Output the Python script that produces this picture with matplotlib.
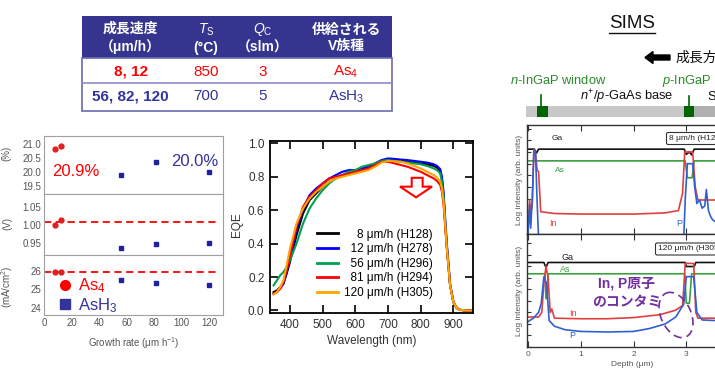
import matplotlib
matplotlib.use("Agg")
import matplotlib.pyplot as plt
from matplotlib.patches import Rectangle, Polygon, Ellipse
from matplotlib.lines import Line2D

plt.rcParams['font.family'] = ['Liberation Sans', 'Noto Sans CJK JP', 'DejaVu Sans']
plt.rcParams['mathtext.fontset'] = 'custom'
plt.rcParams['mathtext.rm'] = 'Liberation Sans'
plt.rcParams['mathtext.it'] = 'Liberation Sans:italic'
plt.rcParams['mathtext.bf'] = 'Liberation Sans:bold'

# ---------------- data ----------------
# table
table_header = ["成長速度\n（μm/h）", "$\\mathit{T}_\\mathrm{S}$\n(°C)", "$\\mathit{Q}_\\mathrm{C}$\n（slm）", "供給される\nV族種"]
table_row1 = ["8, 12", "850", "3", "As$_4$"]
table_row2 = ["56, 82, 120", "700", "5", "AsH$_3$"]

# growth-rate panels
rate_as4 = [8, 12]
eff_as4 = [20.82, 20.95]
voc_as4 = [1.001, 1.0145]
jsc_as4 = [25.9, 25.9]
rate_ash3 = [56, 81, 120]
eff_ash3 = [19.88, 20.36, 19.99]
voc_ash3 = [0.936, 0.947, 0.950]
jsc_ash3 = [25.5, 25.35, 25.24]
voc_ref = 1.009
jsc_ref = 25.92

# EQE
wl = [350, 360, 370, 380, 390, 400, 420, 440, 460, 480, 500, 520, 540, 560, 580, 600, 620, 640,
      660, 680, 700, 720, 740, 760, 780, 800, 820, 840, 850, 860, 865, 870, 875, 880, 890, 900,
      910, 920, 940, 955]
eqe_8 = [0.11, 0.12, 0.14, 0.16, 0.22, 0.29, 0.45, 0.58, 0.66, 0.70, 0.74, 0.77, 0.79, 0.81, 0.82,
         0.83, 0.84, 0.85, 0.87, 0.895, 0.90, 0.898, 0.895, 0.89, 0.885, 0.88, 0.875, 0.865, 0.855,
         0.83, 0.78, 0.68, 0.52, 0.38, 0.15, 0.05, 0.015, 0.004, 0.0, 0.0]
eqe_12 = [0.10, 0.11, 0.13, 0.16, 0.23, 0.31, 0.48, 0.61, 0.69, 0.73, 0.76, 0.79, 0.81, 0.83, 0.84,
          0.84, 0.85, 0.86, 0.88, 0.90, 0.91, 0.907, 0.903, 0.90, 0.895, 0.89, 0.885, 0.875, 0.865,
          0.845, 0.80, 0.71, 0.55, 0.40, 0.16, 0.05, 0.015, 0.004, 0.0, 0.0]
eqe_56 = [0.15, 0.18, 0.21, 0.23, 0.26, 0.30, 0.40, 0.52, 0.61, 0.67, 0.72, 0.76, 0.79, 0.81, 0.83,
          0.84, 0.86, 0.87, 0.88, 0.895, 0.90, 0.895, 0.89, 0.885, 0.88, 0.875, 0.865, 0.85, 0.84,
          0.82, 0.77, 0.68, 0.52, 0.38, 0.15, 0.05, 0.015, 0.004, 0.0, 0.0]
eqe_81 = [0.10, 0.11, 0.13, 0.17, 0.24, 0.33, 0.50, 0.62, 0.68, 0.72, 0.76, 0.79, 0.80, 0.81, 0.82,
          0.83, 0.84, 0.85, 0.87, 0.89, 0.89, 0.88, 0.87, 0.86, 0.845, 0.83, 0.81, 0.79, 0.775,
          0.75, 0.71, 0.63, 0.50, 0.37, 0.15, 0.05, 0.015, 0.004, 0.0, 0.0]
eqe_120 = [0.095, 0.11, 0.14, 0.18, 0.27, 0.37, 0.52, 0.61, 0.67, 0.71, 0.74, 0.77, 0.79, 0.80, 0.81,
           0.82, 0.83, 0.84, 0.86, 0.885, 0.895, 0.893, 0.89, 0.88, 0.865, 0.85, 0.83, 0.81, 0.795,
           0.77, 0.73, 0.65, 0.51, 0.37, 0.15, 0.05, 0.015, 0.004, 0.0, 0.0]
eqe_labels = ["    8 μm/h (H128)", "  12 μm/h (H278)", "  56 μm/h (H296)", "  81 μm/h (H294)", "120 μm/h (H305)"]
eqe_colors = ["#000000", "#0000ff", "#00a050", "#ff0000", "#ffa500"]

# SIMS (log intensity, arbitrary units)
ga_top_x = [0.0, 0.12, 0.16, 0.2, 2.96, 3.0, 3.06, 3.1, 3.15, 3.2, 4.0]
ga_top_y = [7.24, 7.24, 6.9, 7.24, 7.24, 6.8, 7.0, 6.75, 7.24, 7.24, 7.24]
as_top_x = [0.0, 2.98, 3.02, 3.11, 3.15, 4.0]
as_top_y = [6.24, 6.24, 4.8, 4.8, 6.24, 6.24]
in_top_x = [0.0, 0.03, 0.05, 0.08, 0.11, 0.14, 0.17, 0.2, 0.24, 0.5, 1.0, 2.0, 2.6, 2.85, 2.93,
            2.97, 3.12, 3.17, 3.22, 3.5, 4.0]
in_top_y = [0.3, 2.9, 1.8, 2.5, 7.2, 7.0, 5.5, 5.3, 1.9, 1.75, 1.7, 1.7, 1.8, 2.0, 3.5,
            7.0, 7.0, 4.0, 2.9, 2.9, 2.9]
p_top_x = [0.0, 0.03, 0.05, 0.08, 0.11, 0.14, 0.17, 0.2, 2.95, 2.98, 3.02, 3.12, 3.16, 3.2, 3.25,
           3.3, 3.35, 3.38, 3.42, 3.46, 3.5, 3.6, 3.8, 4.0]
p_top_y = [0.1, 2.5, 0.5, 3.0, 7.0, 7.1, 3.0, -0.5, -0.5, 3.0, 6.0, 6.0, 4.0, 2.6, 2.9,
           2.2, 2.4, 3.8, 2.0, 1.5, 1.2, 0.9, 0.6, 0.5]
ga_bot_x = [0.0, 0.3, 0.34, 0.38, 2.98, 3.0, 3.15, 3.18, 4.0]
ga_bot_y = [7.33, 7.33, 6.9, 7.33, 7.33, 6.98, 6.98, 7.33, 7.33]
as_bot_x = [0.0, 0.32, 0.34, 0.36, 0.38, 2.97, 3.0, 3.06, 3.1, 4.0]
as_bot_y = [6.35, 6.35, 4.2, 4.2, 6.35, 6.35, 3.8, 3.8, 6.35, 6.35]
in_bot_x = [0.0, 0.2, 0.26, 0.3, 0.34, 0.38, 0.42, 0.45, 0.5, 1.0, 1.5, 2.0, 2.5, 2.8, 2.93,
            2.98, 3.14, 3.18, 3.22, 3.5, 4.0]
in_bot_y = [2.6, 2.6, 3.0, 5.5, 7.0, 6.0, 3.0, 3.3, 2.5, 2.45, 2.45, 2.55, 2.8, 3.2, 3.6,
            7.25, 7.25, 3.0, 2.5, 2.5, 2.5]
p_bot_x = [0.0, 0.1, 0.2, 0.25, 0.3, 0.35, 0.4, 0.5, 0.7, 1.0, 1.5, 2.0, 2.3, 2.6, 2.8, 2.95,
           3.0, 3.14, 3.2, 3.3, 3.5, 4.0]
p_bot_y = [2.2, 2.5, 3.0, 3.8, 6.1, 5.5, 2.3, 1.8, 1.5, 1.35, 1.3, 1.35, 1.6, 2.0, 2.6, 3.7,
           6.1, 6.1, 3.0, 2.35, 2.3, 2.3]

# ---------------- figure ----------------
W, H = 715, 383
fig = plt.figure(figsize=(W / 100, H / 100), dpi=100)


def px(l, t, r, b):
    return [l / W, 1 - b / H, (r - l) / W, (b - t) / H]


GRAY = "#555555"
RED = "#ff0000"
BLUE = "#333399"

# ---- growth-rate panels ----
axes_g = [fig.add_axes(px(44, 136, 223, 194)),
          fig.add_axes(px(44, 194, 223, 255)),
          fig.add_axes(px(44, 255, 223, 315))]
for a in axes_g:
    a.set_xlim(0, 130)
    for s in a.spines.values():
        s.set_color("#a0a0a0")
        s.set_linewidth(0.8)
    a.tick_params(length=0, labelsize=7, labelcolor=GRAY, pad=2)
    a.set_xticks([0, 20, 40, 60, 80, 100, 120])
for a in axes_g[:2]:
    a.tick_params(labelbottom=False)

a = axes_g[0]
a.plot(rate_as4, eff_as4, 'o', color="#e02020", ms=3.5)
a.plot(rate_ash3, eff_ash3, 's', color="#2020a0", ms=3.2)
a.set_ylim(19.2, 21.3)
a.set_yticks([19.5, 20.0, 20.5, 21.0])
a.set_yticklabels(["19.5", "20.0", "20.5", "21.0"])
a.text(5.8, 20.03, "20.9%", color=RED, fontsize=12, va='center')
a.text(92.5, 20.38, "20.0%", color=BLUE, fontsize=12, va='center')

a = axes_g[1]
a.axhline(voc_ref, xmin=0, xmax=0.97, color=RED, ls=(0, (4, 2.5)), lw=1.3)
a.plot(rate_as4, voc_as4, 'o', color="#e02020", ms=3.5)
a.plot(rate_ash3, voc_ash3, 's', color="#2020a0", ms=3.2)
a.set_ylim(0.915, 1.0876)
a.set_yticks([0.95, 1.00, 1.05])
a.set_yticklabels(["0.95", "1.00", "1.05"])

a = axes_g[2]
a.axhline(jsc_ref, xmin=0, xmax=0.97, color=RED, ls=(0, (4, 2.5)), lw=1.3)
a.plot(rate_as4, jsc_as4, 'o', color="#e02020", ms=3.5)
a.plot(rate_ash3, jsc_ash3, 's', color="#2020a0", ms=3.2)
a.set_ylim(23.64, 26.83)
a.set_yticks([24, 25, 26])
a.set_xlabel("Growth rate (μm h$^{-1}$)", fontsize=7, color=GRAY, labelpad=5)
h1 = Line2D([], [], marker='o', ls='none', color=RED, ms=7)
h2 = Line2D([], [], marker='s', ls='none', color=BLUE, ms=6.5)
a.legend([h1, h2], ["As$_4$", "AsH$_3$"], loc='upper left', bbox_to_anchor=(0.08, 0.64),
         frameon=False, fontsize=12, handlelength=0.8, handletextpad=0.4, labelspacing=0.05,
         borderpad=0, borderaxespad=0, labelcolor=[RED, BLUE])

fig.text(6.5 / W, 1 - 153 / H, "(%)", rotation=90, ha='center', va='center', fontsize=7, color=GRAY)
fig.text(-4 / W, 1 - 150 / H, "η", rotation=90, ha='center', va='center', fontsize=7, color=GRAY)
fig.text(7 / W, 1 - 223 / H, "(V)", rotation=90, ha='center', va='center', fontsize=7, color=GRAY)
fig.text(-6 / W, 1 - 213 / H, "$V_\\mathrm{OC}$", rotation=90, ha='center', va='center', fontsize=7, color=GRAY)
fig.text(7 / W, 1 - 287 / H, "(mA/cm$^2$)", rotation=90, ha='center', va='center', fontsize=7, color=GRAY)
fig.text(-6 / W, 1 - 272 / H, "$J_\\mathrm{SC}$", rotation=90, ha='center', va='center', fontsize=7, color=GRAY)

# ---- EQE ----
ae = fig.add_axes(px(270, 140.7, 473, 313))
for yv, c, lab in zip([eqe_8, eqe_12, eqe_56, eqe_81, eqe_120], eqe_colors, eqe_labels):
    ae.plot(wl, yv, color=c, lw=1.5, label=lab)
ae.set_xlim(339, 960)
ae.set_ylim(-0.015, 1.016)
ae.set_xticks([400, 500, 600, 700, 800, 900])
ae.set_yticks([0.0, 0.2, 0.4, 0.6, 0.8, 1.0])
ae.set_yticklabels(["0.0", "0.2", "0.4", "0.6", "0.8", "1.0"])
ae.tick_params(direction='in', length=6, width=1.2, top=True, right=True, labelsize=8.5,
               labelcolor="#333333", pad=4)
for s in ae.spines.values():
    s.set_linewidth(1.3)
ae.set_xlabel("Wavelength (nm)", fontsize=8.5, color="#333333", labelpad=3)
fig.text(237 / W, 1 - 225 / H, "EQE", rotation=90, ha='center', va='center', fontsize=8.5, color="#333333")
leg = ae.legend(loc='upper left', bbox_to_anchor=(0.232, 0.49), frameon=False, fontsize=8.5,
                handlelength=1.75, handletextpad=0.5, labelspacing=0.22, borderpad=0, borderaxespad=0)
for ln in leg.get_lines():
    ln.set_linewidth(2.0)
arrow = Polygon([[772.5, 0.794], [806, 0.794], [806, 0.741], [834.6, 0.741], [785.7, 0.677],
                 [736.7, 0.741], [772.5, 0.741]], closed=True, facecolor='white', edgecolor=RED,
                lw=1.5, zorder=5)
ae.add_patch(arrow)

# ---- SIMS ----
st = fig.add_axes(px(527, 125, 738, 234))
sb = fig.add_axes(px(527, 234, 738, 347))
sims_sets = [
    (st, [(ga_top_x, ga_top_y, "#111111"), (as_top_x, as_top_y, "#3aa040"),
          (in_top_x, in_top_y, "#e04040"), (p_top_x, p_top_y, "#3060d0")]),
    (sb, [(ga_bot_x, ga_bot_y, "#111111"), (as_bot_x, as_bot_y, "#3aa040"),
          (in_bot_x, in_bot_y, "#e04040"), (p_bot_x, p_bot_y, "#3060d0")]),
]
for a, lines in sims_sets:
    for xs, ys, c in lines:
        a.plot(xs, ys, color=c, lw=1.2)
    a.set_xlim(-0.02, 3.98)
    a.set_xticks([0, 1, 2, 3])
    a.set_yticks(range(0, 10))
    a.tick_params(axis='y', direction='in', length=3, labelleft=False, color="#333333")
    a.tick_params(axis='x', direction='in', length=4, top=True, labelsize=6, labelcolor=GRAY,
                  color="#333333", pad=3)
    for s in a.spines.values():
        s.set_color("#333333")
        s.set_linewidth(1.0)
    a.set_ylabel("Log intensity (arb. units)", fontsize=6, color=GRAY, labelpad=3)
st.set_ylim(0, 9.3)
sb.set_ylim(0, 9.8)
st.tick_params(axis='x', labelbottom=False)
sb.set_xlabel("Depth (μm)", fontsize=6, color=GRAY, labelpad=2)

# ---- overlay: table & annotations ----
ov = fig.add_axes([0, 0, 1, 1])
ov.set_xlim(0, W)
ov.set_ylim(H, 0)
ov.axis('off')
ov.patch.set_alpha(0)

tl, tr = 82, 392
ov.add_patch(Rectangle((tl, 16), tr - tl, 58.3 - 16, facecolor="#35348f", edgecolor='none'))
ov.add_patch(Rectangle((tl, 58.3), tr - tl, 111 - 58.3, facecolor='white', edgecolor="#6a6ab0", lw=1.2))
ov.plot([tl, tr], [83.3, 83.3], color="#8a8ac8", lw=1.2)
col_x = [130.7, 206, 263, 346]
for cx, t in zip(col_x, table_header):
    ov.text(cx, 38, t, color='white', fontsize=10, fontweight='bold', ha='center', va='center',
            linespacing=1.25)
for i, (cx, t) in enumerate(zip(col_x, table_row1)):
    ov.text(cx, 71.5, t, color=RED, fontsize=11, fontweight='bold' if i == 0 else 'normal',
            ha='center', va='center')
for i, (cx, t) in enumerate(zip(col_x, table_row2)):
    ov.text(cx, 96.5, t, color=BLUE, fontsize=11, fontweight='bold' if i == 0 else 'normal',
            ha='center', va='center')

# SIMS header annotations
ov.text(632, 24, "SIMS", fontsize=13.5, ha='center', va='center', color='#111111')
ov.plot([609, 655], [32.5, 32.5], color='#111111', lw=1.0)
ov.add_patch(Polygon([[645, 57.5], [653, 51.5], [653, 55], [670, 55], [670, 60], [653, 60], [653, 63.5]],
                     closed=True, facecolor='black', edgecolor='black'))
ov.text(675, 57.5, "成長方向", fontsize=10, ha='left', va='center', color='#111111')
ov.text(510, 81, "$\\mathit{n}$-InGaP window", fontsize=9.3, ha='left', va='center', color="#2a8a2a")
ov.text(662, 81, "$\\mathit{p}$-InGaP BSF", fontsize=9.3, ha='left', va='center', color="#2a8a2a")
ov.text(580, 97, "$\\mathit{n}^{+}$/$\\mathit{p}$-GaAs base", fontsize=9.3, ha='left', va='center',
        color='#111111')
ov.text(707, 97, "SnO", fontsize=9.3, ha='left', va='center', color='#111111')
ov.add_patch(Rectangle((526, 106), 694 - 526, 11, facecolor="#c8c8c8", edgecolor='none'))
ov.add_patch(Rectangle((694, 106), 30, 11, facecolor="#b0b0b0", edgecolor='none'))
ov.add_patch(Rectangle((537, 106), 11, 11, facecolor="#006400", edgecolor='none'))
ov.add_patch(Rectangle((684, 106), 10, 11, facecolor="#006400", edgecolor='none'))
ov.plot([541, 541], [95, 106], color="#006400", lw=1.2)
ov.plot([689, 689], [96, 106], color="#006400", lw=1.2)

# SIMS labels inside panels
ov.text(557, 139, "Ga", fontsize=6, color='#222222', ha='center', va='center')
ov.text(560, 171, "As", fontsize=6, color="#3aa040", ha='center', va='center')
ov.text(553, 223, "In", fontsize=6.5, color="#e04040", ha='center', va='center')
ov.text(679, 223, "P", fontsize=6.5, color="#3060d0", ha='center', va='center')
ov.text(669, 138.5, "8 μm/h (H128)", fontsize=6, color='#222222', ha='left', va='center',
        bbox=dict(boxstyle='round,pad=0.3,rounding_size=0.2', fc='white', ec='#333333', lw=0.8))
ov.text(567, 257, "Ga", fontsize=6.5, color='#222222', ha='center', va='center')
ov.text(565, 269, "As", fontsize=6.5, color="#3aa040", ha='center', va='center')
ov.text(573, 313, "In", fontsize=6.5, color="#e04040", ha='center', va='center')
ov.text(572, 336, "P", fontsize=6.5, color="#3060d0", ha='center', va='center')
ov.text(658, 249, "120 μm/h (H305)", fontsize=6, color='#222222', ha='left', va='center',
        bbox=dict(boxstyle='round,pad=0.3,rounding_size=0.2', fc='white', ec='#333333', lw=0.8))
ov.text(627, 283, "In, P原子", fontsize=10, fontweight='bold', color="#7030a0", ha='center', va='center')
ov.text(627, 302.5, "のコンタミ", fontsize=10, fontweight='bold', color="#7030a0", ha='center', va='center')
ov.add_patch(Ellipse((676, 315), 30, 48, angle=-25, facecolor='none', edgecolor="#7030a0",
                     lw=1.2, ls=(0, (5, 3))))

fig.savefig("out.png", dpi=100)
